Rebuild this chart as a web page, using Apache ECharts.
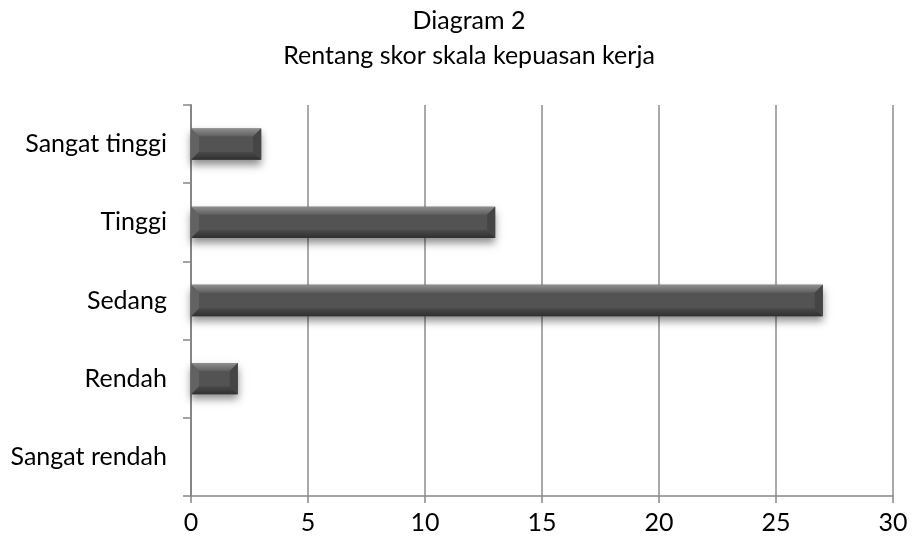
<!DOCTYPE html>
<html>
<head>
<meta charset="utf-8">
<script src="https://cdn.jsdelivr.net/npm/echarts@6/dist/echarts.min.js"></script>
<style>html,body{margin:0;padding:0;background:#fff}#c{width:912px;height:541px}</style>
</head>
<body>
<div id="c"></div>
<script>
const titleLine1 = 'Diagram 2';
const titleLine2 = 'Rentang skor skala kepuasan kerja';
const categories = ['Sangat tinggi', 'Tinggi', 'Sedang', 'Rendah', 'Sangat rendah'];
const values = [3, 13, 27, 2, 0];
const xMin = 0, xMax = 30, xStep = 5;

const FONT = 'Lato';
const chart = echarts.init(document.getElementById('c'), null, {renderer: 'canvas'});

function renderBar(params, api) {
  const v = api.value(0);
  const idx = api.value(1);
  if (!v) return null;
  const p0 = api.coord([0, idx]);
  const p1 = api.coord([v, idx]);
  const band = api.size([0, 1])[1];
  const h = band * 0.4;
  const x0 = p0[0], x1 = p1[0];
  const y0 = p0[1] - h / 2, y1 = p0[1] + h / 2;
  const w = x1 - x0;
  const b = Math.min(8, w / 2, h / 2);
  return {
    type: 'group',
    children: [
      {type: 'rect', shape: {x: x0, y: y0, width: w, height: h},
        style: {fill: '#535353', shadowBlur: 8, shadowColor: 'rgba(0,0,0,0.45)', shadowOffsetY: 5}},
      {type: 'polygon', shape: {points: [[x0, y0], [x1, y0], [x1 - b, y0 + b], [x0 + b, y0 + b]]},
        style: {fill: new echarts.graphic.LinearGradient(0, 0, 0, 1, [{offset: 0, color: '#8e8e8e'}, {offset: 1, color: '#5f5f5f'}])}},
      {type: 'polygon', shape: {points: [[x0, y1], [x1, y1], [x1 - b, y1 - b], [x0 + b, y1 - b]]},
        style: {fill: new echarts.graphic.LinearGradient(0, 0, 0, 1, [{offset: 0, color: '#4a4a4a'}, {offset: 1, color: '#303030'}])}},
      {type: 'polygon', shape: {points: [[x0, y0], [x0 + b, y0 + b], [x0 + b, y1 - b], [x0, y1]]},
        style: {fill: '#626262'}},
      {type: 'polygon', shape: {points: [[x1, y0], [x1 - b, y0 + b], [x1 - b, y1 - b], [x1, y1]]},
        style: {fill: '#454545'}}
    ]
  };
}

chart.setOption({
  animation: false,
  backgroundColor: '#ffffff',
  title: [
    {text: titleLine1, left: 464, top: 3, textAlign: 'center',
      textStyle: {fontFamily: FONT, fontSize: 25, fontWeight: 'normal', color: '#000'}},
    {text: titleLine2, left: 464, top: 38, textAlign: 'center',
      textStyle: {fontFamily: FONT, fontSize: 25, fontWeight: 'normal', color: '#000'}}
  ],
  grid: {left: 191, right: 19, top: 105, bottom: 45, containLabel: false},
  xAxis: {
    type: 'value', min: xMin, max: xMax, interval: xStep,
    axisLine: {show: true, lineStyle: {color: '#868686', width: 1.5}},
    axisTick: {show: true, length: 7, lineStyle: {color: '#868686', width: 1.5}},
    axisLabel: {fontFamily: FONT, fontSize: 25, color: '#000', margin: 14},
    splitLine: {show: true, lineStyle: {color: '#8c8c8c', width: 1.5}}
  },
  yAxis: {
    type: 'category', data: categories, inverse: true,
    axisLine: {show: true, lineStyle: {color: '#868686', width: 2}},
    axisTick: {show: true, length: 8, lineStyle: {color: '#868686', width: 1.5}},
    axisLabel: {fontFamily: FONT, fontSize: 25, color: '#000', margin: 24},
    splitLine: {show: false}
  },
  series: [{
    type: 'custom',
    renderItem: renderBar,
    encode: {x: 0, y: 1},
    data: values.map((v, i) => [v, i]),
    clip: false
  }]
});
</script>
</body>
</html>
